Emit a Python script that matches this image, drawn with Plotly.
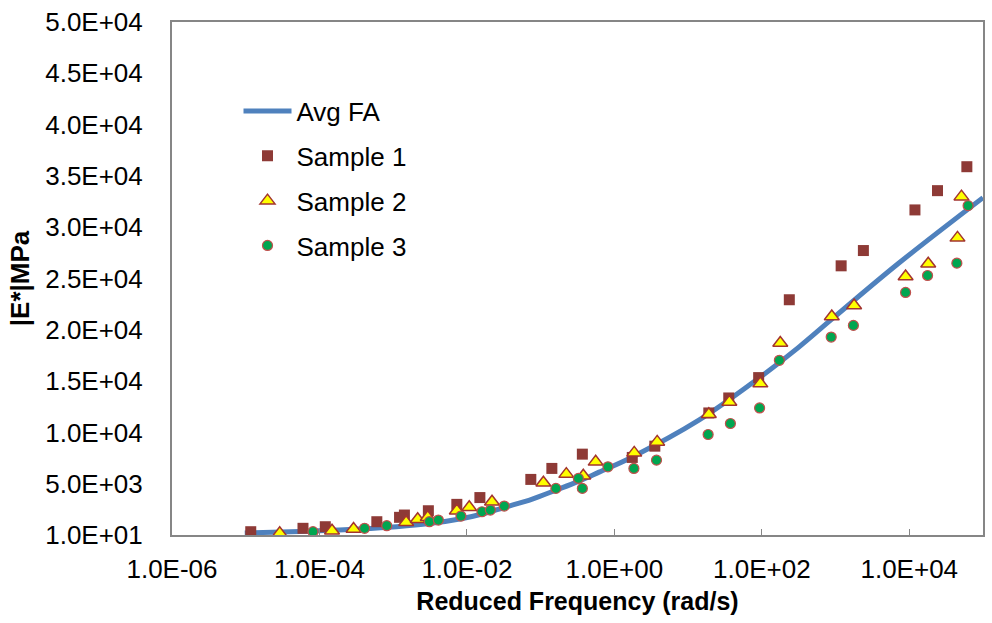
import plotly.graph_objects as go

# Master curve (average fitted model)
avg_freq = [9.7e-6, 5.4e-5, 1.37e-4, 3.5e-4, 1.11e-3, 3.1e-3, 8.7e-3, 0.0172, 0.032,
            0.077, 0.162, 0.332, 0.62, 1.73, 14.0, 90.6, 315, 881, 7100, 1.0e5]
avg_E = [205, 350, 467, 594, 817, 1120, 1620, 2102, 2685, 3512, 4388, 5263, 6139,
         7598, 11197, 15283, 18299, 21022, 26470, 32890]

# Sample 1 measured |E*|
s1_freq = [1.17e-5, 5.98e-5, 1.20e-4, 6.0e-4, 1.22e-3, 1.42e-3, 3.0e-3, 7.3e-3, 0.0150,
           0.0736, 0.142, 0.368, 1.75, 3.54, 19.1, 35.6, 90.6, 236, 1191, 2386,
           11940, 24150, 60400]
s1_E = [331, 662, 817, 1304, 1732, 1956, 2374, 2996, 3658, 5428, 6499, 7890, 7569,
        8668, 11907, 13367, 15351, 22939, 26246, 27735, 31694, 33572, 35906]

# Sample 2 measured |E*|
s2_freq = [2.89e-5, 1.48e-4, 2.90e-4, 1.50e-3, 2.15e-3, 2.94e-3, 7.3e-3, 0.01076, 0.0219,
           0.109, 0.223, 0.379, 0.558, 1.86, 3.81, 19.1, 36.3, 95.5, 178, 889, 1786,
           8913, 18070, 45080, 51050]
s2_E = [175, 428, 594, 1245, 1537, 1732, 2374, 2705, 3249, 5098, 5944, 5779, 7141,
        8016, 9086, 11781, 12977, 14767, 18717, 21314, 22384, 25206, 26441, 28970, 32988]

# Sample 3 measured |E*|
s3_freq = [8.17e-5, 4.09e-4, 8.18e-4, 3.10e-3, 4.10e-3, 8.3e-3, 0.0160, 0.0208, 0.0321,
           0.161, 0.325, 0.368, 0.818, 1.84, 3.73, 18.7, 37.5, 93.3, 173, 873, 1746,
           8913, 17700, 44200, 62800]
s3_E = [331, 662, 915, 1304, 1469, 1858, 2277, 2442, 2831, 4553, 5526, 4553, 6654,
        6499, 7306, 9806, 10876, 12394, 17034, 19300, 20439, 23649, 25303, 26506, 32112]

# Axis ticks
x_tickvals = [1e-6, 1e-4, 1e-2, 1e0, 1e2, 1e4]
x_ticktext = ["1.0E-06", "1.0E-04", "1.0E-02", "1.0E+00", "1.0E+02", "1.0E+04"]
y_tickvals = [10, 5010, 10010, 15010, 20010, 25010, 30010, 35010, 40010, 45010, 50010]
y_ticktext = ["1.0E+01", "5.0E+03", "1.0E+04", "1.5E+04", "2.0E+04", "2.5E+04",
              "3.0E+04", "3.5E+04", "4.0E+04", "4.5E+04", "5.0E+04"]

FONT = "Arial, Liberation Sans, sans-serif"
AXIS_GRAY = "#868686"

fig = go.Figure()

fig.add_trace(go.Scatter(
    x=avg_freq, y=avg_E, mode="lines", name="Avg FA",
    line=dict(color="#4F81BD", width=5, shape="spline", smoothing=1.0),
    legendgroup="a",
))
fig.add_trace(go.Scatter(
    x=s1_freq, y=s1_E, mode="markers", name="Sample 1",
    marker=dict(symbol="square", size=11, color="#8E3A36",
                line=dict(color="#8E3A36", width=0)),
    legendgroup="b",
))
fig.add_trace(go.Scatter(
    x=s2_freq, y=s2_E, mode="markers", name="Sample 2",
    marker=dict(symbol="triangle-up", size=13, color="#FFFF00",
                line=dict(color="#A3342F", width=1.5)),
    legendgroup="c",
))
fig.add_trace(go.Scatter(
    x=s3_freq, y=s3_E, mode="markers", name="Sample 3",
    marker=dict(symbol="circle", size=10, color="#00A650",
                line=dict(color="#C0504D", width=1.2)),
    legendgroup="d",
))

fig.update_layout(
    width=992, height=623,
    margin=dict(l=172, r=7, t=21, b=88),
    paper_bgcolor="white", plot_bgcolor="white",
    font=dict(family=FONT, size=26, color="black"),
    showlegend=True,
    legend=dict(
        x=0.082, y=0.872, xanchor="left", yanchor="top",
        font=dict(family=FONT, size=26, color="black"),
        bgcolor="rgba(0,0,0,0)", tracegroupgap=8, itemwidth=48,
    ),
    xaxis=dict(
        type="log", range=[-6, 5],
        tickmode="array", tickvals=x_tickvals, ticktext=x_ticktext,
        ticks="inside", ticklen=6, tickcolor=AXIS_GRAY, tickwidth=1,
        ticklabelstandoff=10,
        showgrid=False, zeroline=False,
        showline=True, linecolor=AXIS_GRAY, linewidth=2, mirror=True,
        tickfont=dict(family=FONT, size=26, color="black"),
        title=dict(text="<b>Reduced Frequency (rad/s)</b>",
                   font=dict(family=FONT, size=25, color="black"), standoff=9),
    ),
    yaxis=dict(
        range=[10, 50010],
        tickmode="array", tickvals=y_tickvals, ticktext=y_ticktext,
        ticks="", showgrid=False, zeroline=False,
        showline=True, linecolor=AXIS_GRAY, linewidth=2, mirror=True,
        tickfont=dict(family=FONT, size=26, color="black"),
        ticklabelstandoff=22,
        title=dict(text="<b>|E*|MPa</b>",
                   font=dict(family=FONT, size=26, color="black"), standoff=8),
    ),
)

fig.write_html("out.html")
